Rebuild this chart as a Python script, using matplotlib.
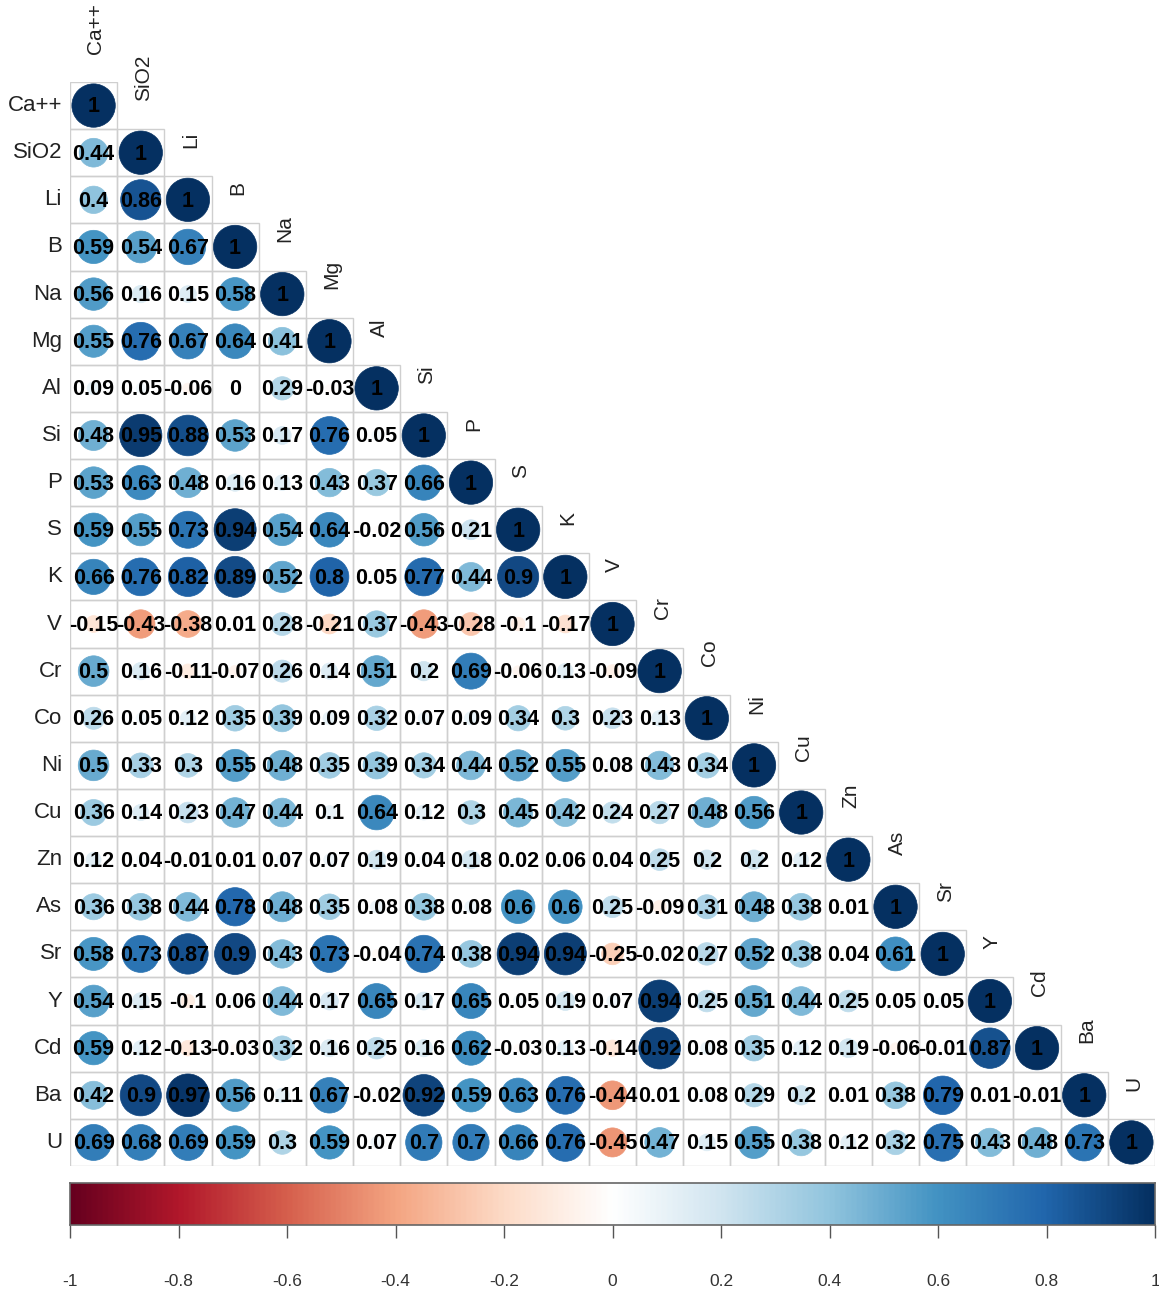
import matplotlib
matplotlib.use("Agg")
import matplotlib.pyplot as plt
from matplotlib.patches import Circle, Rectangle
from matplotlib.colors import LinearSegmentedColormap
from matplotlib import font_manager
import numpy as np

variables = ["Ca++", "SiO2", "Li", "B", "Na", "Mg", "Al", "Si", "P", "S", "K", "V",
             "Cr", "Co", "Ni", "Cu", "Zn", "As", "Sr", "Y", "Cd", "Ba", "U"]

row_Ca = [1]
row_SiO2 = [0.44, 1]
row_Li = [0.4, 0.86, 1]
row_B = [0.59, 0.54, 0.67, 1]
row_Na = [0.56, 0.16, 0.15, 0.58, 1]
row_Mg = [0.55, 0.76, 0.67, 0.64, 0.41, 1]
row_Al = [0.09, 0.05, -0.06, 0, 0.29, -0.03, 1]
row_Si = [0.48, 0.95, 0.88, 0.53, 0.17, 0.76, 0.05, 1]
row_P = [0.53, 0.63, 0.48, 0.16, 0.13, 0.43, 0.37, 0.66, 1]
row_S = [0.59, 0.55, 0.73, 0.94, 0.54, 0.64, -0.02, 0.56, 0.21, 1]
row_K = [0.66, 0.76, 0.82, 0.89, 0.52, 0.8, 0.05, 0.77, 0.44, 0.9, 1]
row_V = [-0.15, -0.43, -0.38, 0.01, 0.28, -0.21, 0.37, -0.43, -0.28, -0.1, -0.17, 1]
row_Cr = [0.5, 0.16, -0.11, -0.07, 0.26, 0.14, 0.51, 0.2, 0.69, -0.06, 0.13, -0.09, 1]
row_Co = [0.26, 0.05, 0.12, 0.35, 0.39, 0.09, 0.32, 0.07, 0.09, 0.34, 0.3, 0.23, 0.13, 1]
row_Ni = [0.5, 0.33, 0.3, 0.55, 0.48, 0.35, 0.39, 0.34, 0.44, 0.52, 0.55, 0.08, 0.43, 0.34, 1]
row_Cu = [0.36, 0.14, 0.23, 0.47, 0.44, 0.1, 0.64, 0.12, 0.3, 0.45, 0.42, 0.24, 0.27, 0.48, 0.56, 1]
row_Zn = [0.12, 0.04, -0.01, 0.01, 0.07, 0.07, 0.19, 0.04, 0.18, 0.02, 0.06, 0.04, 0.25, 0.2, 0.2,
          0.12, 1]
row_As = [0.36, 0.38, 0.44, 0.78, 0.48, 0.35, 0.08, 0.38, 0.08, 0.6, 0.6, 0.25, -0.09, 0.31, 0.48,
          0.38, 0.01, 1]
row_Sr = [0.58, 0.73, 0.87, 0.9, 0.43, 0.73, -0.04, 0.74, 0.38, 0.94, 0.94, -0.25, -0.02, 0.27, 0.52,
          0.38, 0.04, 0.61, 1]
row_Y = [0.54, 0.15, -0.1, 0.06, 0.44, 0.17, 0.65, 0.17, 0.65, 0.05, 0.19, 0.07, 0.94, 0.25, 0.51,
         0.44, 0.25, 0.05, 0.05, 1]
row_Cd = [0.59, 0.12, -0.13, -0.03, 0.32, 0.16, 0.25, 0.16, 0.62, -0.03, 0.13, -0.14, 0.92, 0.08, 0.35,
          0.12, 0.19, -0.06, -0.01, 0.87, 1]
row_Ba = [0.42, 0.9, 0.97, 0.56, 0.11, 0.67, -0.02, 0.92, 0.59, 0.63, 0.76, -0.44, 0.01, 0.08, 0.29,
          0.2, 0.01, 0.38, 0.79, 0.01, -0.01, 1]
row_U = [0.69, 0.68, 0.69, 0.59, 0.3, 0.59, 0.07, 0.7, 0.7, 0.66, 0.76, -0.45, 0.47, 0.15, 0.55,
         0.38, 0.12, 0.32, 0.75, 0.43, 0.48, 0.73, 1]

rows = [row_Ca, row_SiO2, row_Li, row_B, row_Na, row_Mg, row_Al, row_Si, row_P, row_S, row_K, row_V,
        row_Cr, row_Co, row_Ni, row_Cu, row_Zn, row_As, row_Sr, row_Y, row_Cd, row_Ba, row_U]

colorbar_ticks = [-1, -0.8, -0.6, -0.4, -0.2, 0, 0.2, 0.4, 0.6, 0.8, 1]

cmap = LinearSegmentedColormap.from_list(
    "corrRdBu",
    ["#67001F", "#B2182B", "#D6604D", "#F4A582", "#FDDBC7", "#FFFFFF",
     "#D1E5F0", "#92C5DE", "#4393C3", "#2166AC", "#053061"], N=200)

available = {f.name for f in font_manager.fontManager.ttflist}
label_font = "Liberation Sans"
narrow_font = "Liberation Sans Narrow" if "Liberation Sans Narrow" in available else "Liberation Sans"

W, H = 1159, 1290
fig = plt.figure(figsize=(W / 100, H / 100), dpi=100)
n = len(variables)

left_px, right_px, top_px, bottom_px = 70, 1155, 82, 1166
ax = fig.add_axes([left_px / W, 1 - bottom_px / H, (right_px - left_px) / W, (bottom_px - top_px) / H])
ax.set_xlim(0, n)
ax.set_ylim(n, 0)
ax.set_axis_off()

for i, row in enumerate(rows):
    for j, v in enumerate(row):
        ax.add_patch(Rectangle((j, i), 1, 1, facecolor="none", edgecolor="#CFCFCF", lw=1.0, zorder=1))
        r = 0.46 * np.sqrt(abs(v))
        col = cmap((v + 1) / 2)
        if r > 0:
            ax.add_patch(Circle((j + 0.5, i + 0.5), r, facecolor=col, edgecolor=col, lw=0.5, zorder=2))
        txt = f"{round(v, 2):g}"
        ax.text(j + 0.5, i + 0.53, txt, ha="center", va="center", fontsize=15.5,
                fontweight="bold", family=label_font, color="black", zorder=3)

for i, name in enumerate(variables):
    ax.text(-0.17, i + 0.5, name, ha="right", va="center", fontsize=16,
            family=label_font, color="#222222", clip_on=False)
    ax.text(i + 0.55, i - 0.6, name, ha="center", va="bottom", rotation=90, fontsize=15,
            family=label_font, color="#222222", clip_on=False)

# colorbar
cb_top, cb_bot = 1183, 1225
cax = fig.add_axes([left_px / W, 1 - cb_bot / H, (right_px - left_px) / W, (cb_bot - cb_top) / H])
grad = np.linspace(-1, 1, 400).reshape(1, -1)
cax.imshow(grad, aspect="auto", cmap=cmap, vmin=-1, vmax=1, extent=[-1, 1, 0, 1])
cax.set_xlim(-1, 1)
cax.set_yticks([])
cax.set_xticks(colorbar_ticks)
cax.set_xticklabels([f"{t:g}" for t in colorbar_ticks], family=narrow_font, fontsize=12.5, color="#333333")
cax.tick_params(axis="x", length=9, width=1, color="#555555", pad=26)
for s in cax.spines.values():
    s.set_edgecolor("#666666")
    s.set_linewidth(1.2)

fig.savefig("out.png", dpi=100)
